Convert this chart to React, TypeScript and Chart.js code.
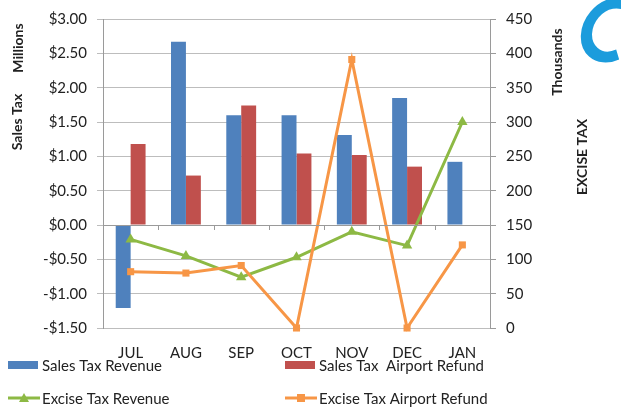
import React, { useEffect, useRef } from 'react';
import { Chart, registerables } from 'chart.js';

Chart.register(...registerables);

const categories = ['JUL', 'AUG', 'SEP', 'OCT', 'NOV', 'DEC', 'JAN'];
// Sales tax, millions of dollars (left axis)
const salesTaxRevenue = [-1.21, 2.67, 1.6, 1.6, 1.31, 1.85, 0.92];
const salesTaxAirportRefund = [1.18, 0.72, 1.74, 1.04, 1.02, 0.85, null];
// Excise tax, thousands (right axis)
const exciseTaxRevenue = [129, 105, 74, 103, 140, 120, 300];
const exciseTaxAirportRefund = [82, 80, 91, 0, 391, 0, 121];

const seriesNames = ['Sales Tax Revenue', 'Sales Tax  Airport Refund', 'Excise Tax Revenue', 'Excise Tax Airport Refund'];
const leftAxis = { min: -1.5, max: 3, step: 0.5 };
const rightAxis = { min: 0, max: 450, step: 50 };

const BLUE = '#4F81BD';
const RED = '#C0504D';
const GREEN = '#8DB944';
const ORANGE = '#F79646';
const FONT = 'Lato, "Open Sans", sans-serif';
const TEXT = '#222222';

const decorPlugin = {
  id: 'decor',
  afterDatasetsDraw(chart: any) {
    const { ctx, chartArea, scales } = chart;
    const y0 = scales.y.getPixelForValue(0);
    ctx.save();
    // horizontal category axis at zero
    ctx.strokeStyle = '#9a9a9a';
    ctx.lineWidth = 1;
    ctx.beginPath();
    ctx.moveTo(chartArea.left, Math.round(y0) + 0.5);
    ctx.lineTo(chartArea.right, Math.round(y0) + 0.5);
    const n = categories.length;
    const w = (chartArea.right - chartArea.left) / n;
    for (let i = 0; i <= n; i++) {
      const x = Math.round(chartArea.left + i * w) + 0.5;
      ctx.moveTo(x, Math.round(y0));
      ctx.lineTo(x, Math.round(y0) + 5);
    }
    ctx.stroke();
    ctx.restore();
  },
  afterDraw(chart: any) {
    const { ctx } = chart;
    ctx.save();
    // axis titles
    const vtext = (t: string, x: number, y: number) => {
      ctx.save();
      ctx.translate(x, y);
      ctx.rotate(-Math.PI / 2);
      ctx.textAlign = 'center';
      ctx.textBaseline = 'middle';
      ctx.fillText(t, 0, 0);
      ctx.restore();
    };
    ctx.fillStyle = TEXT;
    ctx.font = `bold 14px ${FONT}`;
    vtext('Millions', 18, 48);
    vtext('Sales Tax', 17, 122);
    vtext('Thousands', 557, 62);
    vtext('EXCISE TAX', 582, 157);

    // legend
    const ds = chart.data.datasets;
    const items = [
      { i: 0, x: 8, y: 365, kind: 'box' },
      { i: 1, x: 285, y: 365, kind: 'box' },
      { i: 2, x: 8, y: 398, kind: 'line' },
      { i: 3, x: 285, y: 398, kind: 'line' },
    ];
    ctx.font = `15px ${FONT}`;
    ctx.textBaseline = 'middle';
    ctx.textAlign = 'left';
    items.forEach((it) => {
      const d = ds[it.i];
      if (it.kind === 'box') {
        ctx.fillStyle = d.backgroundColor;
        ctx.fillRect(it.x, it.y - 4, 30, 8);
      } else {
        ctx.strokeStyle = d.borderColor;
        ctx.lineWidth = 3;
        ctx.beginPath();
        ctx.moveTo(it.x, it.y);
        ctx.lineTo(it.x + 32, it.y);
        ctx.stroke();
        ctx.fillStyle = d.borderColor;
        const cx = it.x + 16;
        if (d.pointStyle === 'triangle') {
          ctx.beginPath();
          ctx.moveTo(cx, it.y - 5);
          ctx.lineTo(cx + 5, it.y + 4);
          ctx.lineTo(cx - 5, it.y + 4);
          ctx.closePath();
          ctx.fill();
        } else {
          ctx.fillRect(cx - 4, it.y - 4, 8, 8);
        }
      }
      ctx.fillStyle = TEXT;
      ctx.fillText(d.label, it.x + 34, it.y + 1);
    });

    // logo letter "C" (slanted open ring, cut by the top and right edges)
    ctx.save();
    const cx = 612, cy = 30;
    ctx.transform(1, 0, -0.2, 1, 0.2 * cy, 0);
    ctx.strokeStyle = '#1C9CDC';
    ctx.lineWidth = 11;
    ctx.lineCap = 'butt';
    ctx.beginPath();
    ctx.ellipse(cx, cy, 25, 27, 0, (-55 * Math.PI) / 180, (65 * Math.PI) / 180, true);
    ctx.stroke();
    ctx.restore();
    ctx.restore();
  },
};

export default function App() {
  const ref = useRef<HTMLCanvasElement>(null);
  useEffect(() => {
    if (!ref.current) return;
    const chart = new Chart(ref.current, {
      type: 'bar',
      data: {
        labels: categories,
        datasets: [
          { type: 'bar', label: seriesNames[0], data: salesTaxRevenue, backgroundColor: BLUE, yAxisID: 'y', order: 2, categoryPercentage: 0.54, barPercentage: 1 } as any,
          { type: 'bar', label: seriesNames[1], data: salesTaxAirportRefund, backgroundColor: RED, yAxisID: 'y', order: 2, categoryPercentage: 0.54, barPercentage: 1 } as any,
          { type: 'line', label: seriesNames[2], data: exciseTaxRevenue, borderColor: GREEN, backgroundColor: GREEN, borderWidth: 3, pointStyle: 'triangle', pointRadius: 6, pointBorderWidth: 0, yAxisID: 'y1', order: 1, clip: false, tension: 0 } as any,
          { type: 'line', label: seriesNames[3], data: exciseTaxAirportRefund, borderColor: ORANGE, backgroundColor: ORANGE, borderWidth: 3, pointStyle: 'rect', pointRadius: 5, pointBorderWidth: 0, yAxisID: 'y1', order: 0, clip: false, tension: 0 } as any,
        ],
      },
      options: {
        animation: false,
        responsive: true,
        maintainAspectRatio: false,
        layout: { padding: { top: 14, left: 0, right: 0, bottom: 0 } },
        plugins: { legend: { display: false }, tooltip: { enabled: false } },
        scales: {
          x: {
            grid: { display: false, drawTicks: false },
            border: { display: false },
            ticks: { color: TEXT, font: { family: FONT, size: 15 }, padding: 16, maxRotation: 0 },
            afterFit: (s: any) => { s.height = 80; },
          },
          y: {
            position: 'left',
            min: leftAxis.min,
            max: leftAxis.max,
            ticks: {
              stepSize: leftAxis.step,
              color: TEXT,
              font: { family: FONT, size: 15 },
              padding: 10,
              callback: (v: any) => (v < 0 ? '-$' + Math.abs(v).toFixed(2) : '$' + Number(v).toFixed(2)),
            },
            grid: { color: '#bdbdbd', lineWidth: 1, tickLength: 6, drawTicks: true },
            border: { display: true, color: '#9a9a9a' },
            afterFit: (s: any) => { s.width = 103; },
          },
          y1: {
            position: 'right',
            min: rightAxis.min,
            max: rightAxis.max,
            ticks: { stepSize: rightAxis.step, color: TEXT, font: { family: FONT, size: 15 }, padding: 10 },
            grid: { drawOnChartArea: false, color: '#9a9a9a', tickLength: 6, drawTicks: true },
            border: { display: true, color: '#9a9a9a' },
            afterFit: (s: any) => { s.width = 131; },
          },
        },
      },
      plugins: [decorPlugin],
    });
    return () => chart.destroy();
  }, []);
  return (
    <div style={{ position: 'fixed', left: 0, top: 0, width: 621, height: 408, background: '#fff' }}>
      <canvas ref={ref} />
    </div>
  );
}
